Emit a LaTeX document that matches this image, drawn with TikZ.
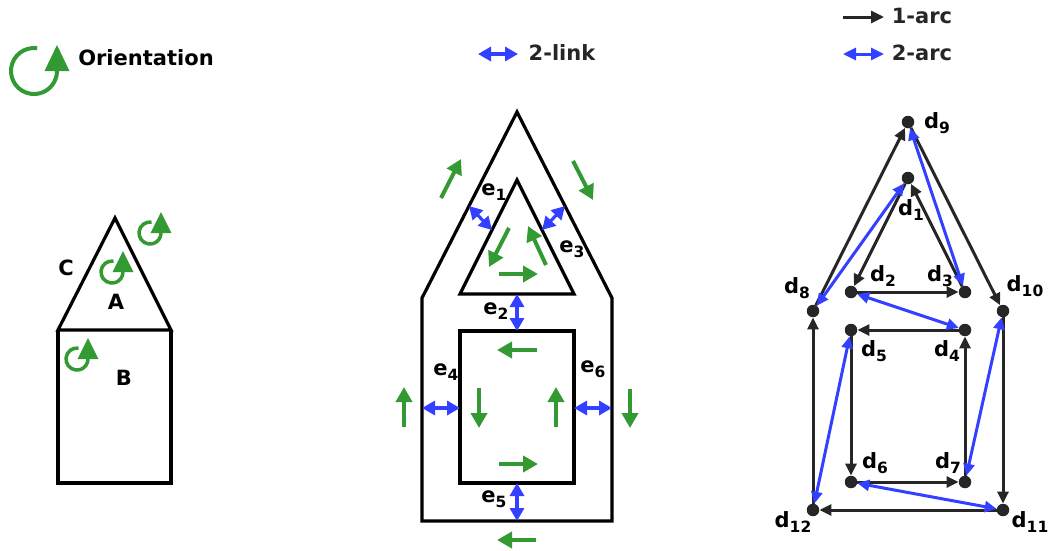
\documentclass[tikz,border=0pt]{standalone}
\usepackage{fontspec}
\setmainfont{DejaVu Sans}
\usetikzlibrary{arrows.meta,calc}
\definecolor{gr}{HTML}{339933}
\definecolor{bl}{HTML}{3340FF}
\definecolor{dk}{HTML}{262626}
\newcommand\lf{\fontsize{21}{24}\selectfont\bfseries}
\newcommand\subs[1]{\raisebox{-4.5pt}{\fontsize{15.5}{16}\selectfont\bfseries #1}}
\newcommand\orienticon[6]{%
  \draw[gr, line width=#6] ($(#1,#2)+(278:#3)$) arc[start angle=278, end angle=0, radius=#3];
  \fill[gr] ($(#1,#2)+(#3,0)+(-#4/2,0)$) -- ++(#4,0) -- ($(#1,#2)+(#3,-#5)$) -- cycle;}
\begin{document}
\begin{tikzpicture}[x=1pt,y=-1pt,
  edge/.style={draw=black, line width=3.2pt, line join=miter},
  lbl/.style={font=\lf, inner sep=0pt, text=black},
  leg/.style={font=\lf, inner sep=0pt, text=dk},
  grn/.style={draw=gr, line width=4pt, -{Triangle[length=15pt,width=16pt]}},
  lnk/.style={draw=bl, line width=3.2pt, {Triangle[length=13pt,width=14pt]}-{Triangle[length=13pt,width=14pt]}},
  dot/.style={circle, fill=dk, inner sep=0pt, minimum size=12.5pt},
  arcone/.style={draw=dk, line width=3pt, -{Triangle[length=12pt,width=11pt]}},
  arctwo/.style={draw=bl, line width=3pt, {Triangle[length=12pt,width=11pt]}-{Triangle[length=12pt,width=11pt]}}]
\useasboundingbox (0,0) rectangle (1053,550);

% ---------- legend: orientation ----------
\orienticon{34}{71}{23}{25}{26}{4pt}
\node[lbl] (tOri) at (146,58) {Orientation};

% ---------- left house ----------
\coordinate (hA) at (115,218);
\coordinate (hL) at (58,330);
\coordinate (hR) at (171,330);
\coordinate (hBL) at (58,483);
\coordinate (hBR) at (171,483);
\draw[edge] (hL) -- (hA) -- (hR) -- cycle;
\draw[edge] (hL) -- (hBL) -- (hBR) -- (hR);
\node[lbl] (lC) at (66,268) {C};
\node[lbl] (lA) at (116,302) {A};
\node[lbl] (lB) at (124,378) {B};
\orienticon{150}{233}{11}{21}{21}{3.5pt}
\orienticon{112}{272}{11}{21}{21}{3.5pt}
\orienticon{77}{359}{11}{21}{21}{3.5pt}

% ---------- middle figure ----------
\coordinate (oT) at (517,112);
\coordinate (oL) at (422,298);
\coordinate (oR) at (612,298);
\coordinate (oBL) at (422,521);
\coordinate (oBR) at (612,521);
\draw[edge] (oBL) -- (oL) -- (oT) -- (oR) -- (oBR) -- cycle;
\coordinate (iT) at (517,180);
\coordinate (iL) at (460,294);
\coordinate (iR) at (574,294);
\draw[edge] (iT) -- (iL) -- (iR) -- cycle;
\coordinate (rTL) at (460,331);
\coordinate (rBR) at (574,483);
\draw[edge] (rTL) rectangle (rBR);

% 2-links
\coordinate (l1a) at (469,206); \coordinate (l1b) at (492,230);
\coordinate (l3a) at (565,206); \coordinate (l3b) at (542,230);
\coordinate (l2a) at (517,294); \coordinate (l2b) at (517,331);
\coordinate (l5a) at (517,483); \coordinate (l5b) at (517,521);
\coordinate (l4a) at (422,408); \coordinate (l4b) at (460,408);
\coordinate (l6a) at (574,408); \coordinate (l6b) at (612,408);
\draw[lnk] (l1a) -- (l1b);
\draw[lnk] (l3a) -- (l3b);
\draw[lnk] (l2a) -- (l2b);
\draw[lnk] (l5a) -- (l5b);
\draw[lnk] (l4a) -- (l4b);
\draw[lnk] (l6a) -- (l6b);

\node[lbl] (e1) at (494,192) {e\subs{1}};
\node[lbl] (e2) at (496,311) {e\subs{2}};
\node[lbl] (e3) at (572,249) {e\subs{3}};
\node[lbl] (e4) at (446,372) {e\subs{4}};
\node[lbl] (e5) at (494,499) {e\subs{5}};
\node[lbl] (e6) at (593,369) {e\subs{6}};

% green orientation arrows
\coordinate (g1a) at (441,198); \coordinate (g1b) at (461,159);
\coordinate (g2a) at (573,161); \coordinate (g2b) at (593,200);
\coordinate (g3a) at (509,228); \coordinate (g3b) at (489,267);
\coordinate (g4a) at (546,265); \coordinate (g4b) at (528,226);
\coordinate (g5a) at (499,274); \coordinate (g5b) at (538,274);
\coordinate (g6a) at (537,350); \coordinate (g6b) at (497,350);
\coordinate (g7a) at (479,388); \coordinate (g7b) at (479,428);
\coordinate (g8a) at (556,427); \coordinate (g8b) at (556,387);
\coordinate (g9a) at (499,464); \coordinate (g9b) at (538,464);
\coordinate (g10a) at (404,427); \coordinate (g10b) at (404,387);
\coordinate (g11a) at (630,389); \coordinate (g11b) at (630,428);
\coordinate (g12a) at (536,540); \coordinate (g12b) at (497,540);
\foreach \i in {1,...,12} {\draw[grn] (g\i a) -- (g\i b);}

% legend 2-link
\coordinate (k1) at (478,54); \coordinate (k2) at (518,54);
\draw[lnk] (k1) -- (k2);
\node[leg] (tLink) at (562,53) {2-link};

% ---------- right graph ----------
\coordinate (a1) at (843,17); \coordinate (a2) at (884,17);
\draw[draw=dk, line width=3pt, -{Triangle[length=13pt,width=12pt]}] (a1) -- (a2);
\node[leg] (t1arc) at (922,16) {1-arc};
\coordinate (b1) at (843,54); \coordinate (b2) at (884,54);
\draw[draw=bl, line width=3pt, {Triangle[length=13pt,width=12pt]}-{Triangle[length=13pt,width=12pt]}] (b1) -- (b2);
\node[leg] (t2arc) at (922,53) {2-arc};

\node[dot] (d9) at (908,122) {};
\node[dot] (d1) at (908,178) {};
\node[dot] (d2) at (851,292) {};
\node[dot] (d3) at (965,292) {};
\node[dot] (d8) at (813,311) {};
\node[dot] (d10) at (1003,311) {};
\node[dot] (d5) at (851,330) {};
\node[dot] (d4) at (965,330) {};
\node[dot] (d6) at (851,482) {};
\node[dot] (d7) at (965,482) {};
\node[dot] (d12) at (813,510) {};
\node[dot] (d11) at (1003,510) {};

\node[lbl] (n9) at (937,123) {d\subs{9}};
\node[lbl] (n1) at (911,210) {d\subs{1}};
\node[lbl] (n2) at (883,276) {d\subs{2}};
\node[lbl] (n3) at (940,276) {d\subs{3}};
\node[lbl] (n8) at (797,288) {d\subs{8}};
\node[lbl] (n10) at (1025,286) {d\subs{10}};
\node[lbl] (n5) at (874,351) {d\subs{5}};
\node[lbl] (n4) at (947,351) {d\subs{4}};
\node[lbl] (n6) at (875,463) {d\subs{6}};
\node[lbl] (n7) at (948,463) {d\subs{7}};
\node[lbl] (n12) at (793,522) {d\subs{12}};
\node[lbl] (n11) at (1030,522) {d\subs{11}};

% 1-arcs
\draw[arcone] (d8) -- (d9);
\draw[arcone] (d9) -- (d10);
\draw[arcone] (d10) -- (d11);
\draw[arcone] (d11) -- (d12);
\draw[arcone] (d12) -- (d8);
\draw[arcone] (d1) -- (d2);
\draw[arcone] (d2) -- (d3);
\draw[arcone] (d3) -- (d1);
\draw[arcone] (d4) -- (d5);
\draw[arcone] (d5) -- (d6);
\draw[arcone] (d6) -- (d7);
\draw[arcone] (d7) -- (d4);

% 2-arcs
\draw[arctwo] (d1) -- (d8);
\draw[arctwo] (d9) -- (d3);
\draw[arctwo] (d2) -- (d4);
\draw[arctwo] (d10) -- (d7);
\draw[arctwo] (d5) -- (d12);
\draw[arctwo] (d6) -- (d11);
\end{tikzpicture}
\end{document}
